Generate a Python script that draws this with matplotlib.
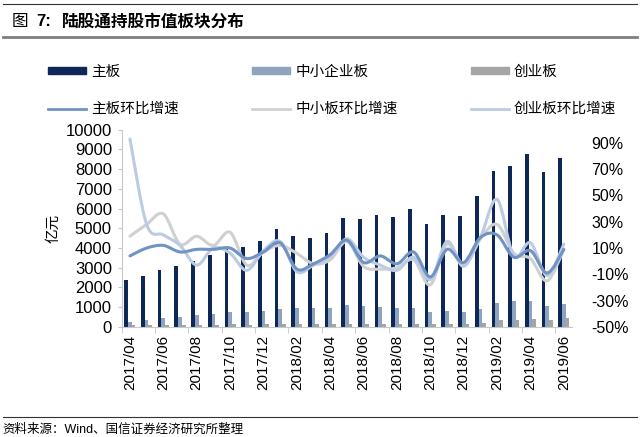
import matplotlib
matplotlib.use("Agg")
import matplotlib.pyplot as plt
import numpy as np
from matplotlib.path import Path
from matplotlib.patches import PathPatch
from matplotlib.lines import Line2D

plt.rcParams['font.family'] = ['Liberation Sans', 'Noto Sans CJK SC', 'DejaVu Sans']

months = ["2017/04", "2017/05", "2017/06", "2017/07", "2017/08", "2017/09", "2017/10",
          "2017/11", "2017/12", "2018/01", "2018/02", "2018/03", "2018/04", "2018/05",
          "2018/06", "2018/07", "2018/08", "2018/09", "2018/10", "2018/11", "2018/12",
          "2019/01", "2019/02", "2019/03", "2019/04", "2019/05", "2019/06"]

main_board = [2370, 2600, 2900, 3080, 3350, 3650, 4000, 4050, 4350, 4950, 4600, 4500, 4750,
              5500, 5470, 5700, 5590, 5970, 5210, 5670, 5620, 6630, 7900, 8140, 8750, 7870, 8550]
sme_board = [250, 330, 430, 480, 580, 640, 780, 760, 810, 900, 980, 970, 970,
             1120, 1070, 1000, 950, 950, 750, 830, 780, 920, 1200, 1290, 1290, 1080, 1170]
gem_board = [80, 100, 110, 120, 110, 120, 130, 120, 130, 150, 140, 140, 150,
             170, 170, 160, 150, 160, 140, 160, 150, 180, 350, 360, 400, 350, 450]

# 环比增速 (%)
main_growth = [4, 10, 12, 7, 9, 9, 10, 2, 7, 14, -6, -2, 5, 16, -1, 4, -2, 7, -12, 9, -1, 18, 20, 3, 8, -9, 9]
sme_growth = [19, 28, 36, 13, 19, 12, 22, -3, 7, 12, 6, -2, 1, 15, -4, -6, -5, 1, -18, 13, -4, 17, 28, 6, 2, -15, 9]
gem_growth = [93, 28, 20, 12, -3, 10, 6, -7, 8, 15, -8, -3, 3, 17, 3, -3, -7, 3, -14, 15, -3, 18, 47, 4, 14, -11, 13]

c_main = '#0d2858'
c_sme = '#8ea3bd'
c_gem = '#a5a5a5'
c_main_l = '#7093c6'
c_sme_l = '#d0d0d0'
c_gem_l = '#bccbe3'


def smooth_path(xs, ys):
    # Excel-style smoothed line drawn as cubic Bezier segments through the points
    pts = np.column_stack([xs, ys]).astype(float)
    n = len(pts)
    verts = [pts[0]]
    codes = [Path.MOVETO]
    for i in range(n - 1):
        p0 = pts[i - 1] if i > 0 else pts[i]
        p1 = pts[i]
        p2 = pts[i + 1]
        p3 = pts[i + 2] if i + 2 < n else pts[i + 1]
        verts += [p1 + (p2 - p0) / 6, p2 - (p3 - p1) / 6, p2]
        codes += [Path.CURVE4] * 3
    return Path(verts, codes)


fig = plt.figure(figsize=(6.4, 4.37), dpi=100)
ax = fig.add_axes([0.19, 0.252, 0.704, 0.451])
ax2 = ax.twinx()

x = np.arange(len(months))
w = 0.22
ax.bar(x - w, main_board, w, color=c_main, zorder=2)
ax.bar(x, sme_board, w, color=c_sme, zorder=2)
ax.bar(x + w, gem_board, w, color=c_gem, zorder=2)

for vals, col in [(sme_growth, c_sme_l), (gem_growth, c_gem_l), (main_growth, c_main_l)]:
    ax2.add_patch(PathPatch(smooth_path(x, np.array(vals) / 100), fill=False,
                            edgecolor=col, lw=2.2, capstyle='round'))

ax.set_xlim(-0.5, len(months) - 0.5)
ax.set_ylim(0, 10000)
ax.set_yticks(np.arange(0, 10001, 1000))
ax2.set_ylim(-0.5, 1.0)
ax2.set_yticks(np.arange(-0.5, 0.91, 0.2))
ax2.set_yticklabels([f"{v:.0f}%" for v in np.arange(-50, 91, 20)])

ax.set_xticks(x[::2])
ax.set_xticklabels(months[::2], rotation=90)
ax.set_xticks(np.arange(-0.5, len(months), 2), minor=True)
ax.tick_params(axis='x', which='major', length=0, labelsize=11, pad=6)
ax.tick_params(axis='x', which='minor', length=4, color='#c8c8c8')
ax.tick_params(axis='y', length=3, color='#c8c8c8', labelsize=12, pad=4)
ax2.tick_params(axis='y', length=0, labelsize=11.5, pad=14)

for a in (ax, ax2):
    for s in ['top', 'right']:
        a.spines[s].set_visible(False)
ax2.spines['left'].set_visible(False)
ax2.spines['bottom'].set_visible(False)
ax.spines['left'].set_color('#c8c8c8')
ax.spines['bottom'].set_color('#c8c8c8')

ax.set_ylabel('亿元', fontsize=10.5, labelpad=4)

handles = [
    plt.Rectangle((0, 0), 1, 1, color=c_main),
    Line2D([], [], color=c_main_l, lw=2),
    plt.Rectangle((0, 0), 1, 1, color=c_sme),
    Line2D([], [], color=c_sme_l, lw=2),
    plt.Rectangle((0, 0), 1, 1, color=c_gem),
    Line2D([], [], color=c_gem_l, lw=2),
]
labels = ['主板', '主板环比增速', '中小企业板', '中小板环比增速', '创业板', '创业板环比增速']
fig.legend(handles, labels, ncol=3, loc='lower left', mode='expand',
           bbox_to_anchor=(0.066, 0.721, 0.906, 0.13), frameon=False,
           fontsize=10.5, handlelength=2.6, handleheight=0.45, labelspacing=1.6,
           handletextpad=0.35, borderaxespad=0)

fig.add_artist(Line2D([0.005, 0.995], [0.99, 0.99], color='#333333', lw=0.8))
fig.add_artist(Line2D([0.005, 0.995], [0.915, 0.915], color='#7f7f7f', lw=2))
fig.add_artist(Line2D([0.005, 0.995], [0.045, 0.045], color='#333333', lw=0.8))
fig.text(0.018, 0.951, '图', fontsize=12, va='center', ha='left')
fig.text(0.056, 0.951, '7:', fontsize=12, va='center', ha='left', fontweight='bold')
fig.text(0.096, 0.951, '陆股通持股市值板块分布', fontsize=12, va='center', ha='left',
         fontweight='bold')
fig.text(0.004, 0.016, '资料来源：Wind、国信证券经济研究所整理', fontsize=9, va='center', ha='left')

fig.savefig('out.png', dpi=100)
